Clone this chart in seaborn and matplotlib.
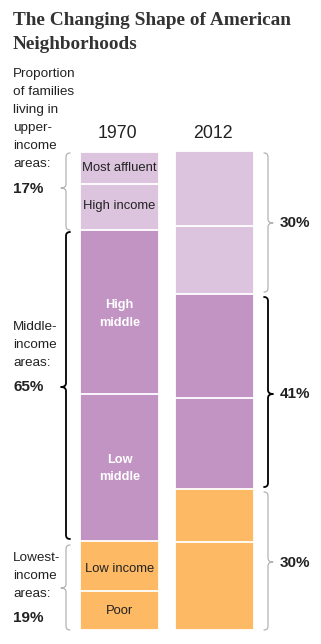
import matplotlib
matplotlib.use("Agg")
import matplotlib.pyplot as plt
from matplotlib.path import Path
from matplotlib.patches import PathPatch
import seaborn as sns
import numpy as np

# ---- data (percent of families, bottom to top) ----
segments = ["Poor", "Low income", "Low middle", "High middle", "High income", "Most affluent"]
years = ["1970", "2012"]
share_1970 = [8.1, 10.4, 30.7, 34.4, 9.6, 6.5]
share_2012 = [18.4, 11.1, 19.0, 21.7, 14.2, 15.7]
seg_colors = ["#fdb964", "#fdb964", "#c194c4", "#c194c4", "#dcc4df", "#dcc4df"]
group_labels_1970 = ["17%", "65%", "19%"]
group_labels_2012 = ["30%", "41%", "30%"]

sns.set_theme(style="white")
plt.rcParams['font.family'] = ['Liberation Sans', 'DejaVu Sans']

W, H = 321, 644
fig = plt.figure(figsize=(W / 100, H / 100), dpi=100)

# bar axes: y spans pixels 151..630, x maps category centers to 119.5 / 214.5 px
ax = fig.add_axes([0, (H - 630) / H, 1, 479 / H])
cum70 = np.cumsum(share_1970)
cum12 = np.cumsum(share_2012)
for i in range(len(segments) - 1, -1, -1):
    sns.barplot(x=years, y=[cum70[i], cum12[i]], color=seg_colors[i], saturation=1,
                width=0.84, edgecolor="white", linewidth=1.3, ax=ax)
ax.set_ylim(0, 100)
ax.set_xlim(-119.5 / 95, (W - 119.5) / 95)
ax.axis("off")

# overlay axes in pixel coordinates for annotations
ov = fig.add_axes([0, 0, 1, 1])
ov.set_xlim(0, W)
ov.set_ylim(H, 0)
ov.axis("off")
ov.patch.set_alpha(0)

dark = "#222222"
ov.text(13, 25, "The Changing Shape of American", family="Liberation Serif", fontweight="bold",
        fontsize=13.9, color="#333333", va="baseline", ha="left")
ov.text(13, 48.5, "Neighborhoods", family="Liberation Serif", fontweight="bold",
        fontsize=13.9, color="#333333", va="baseline", ha="left")

left_fs = 9.7
for txt, yb in [("Proportion", 77), ("of families", 95), ("living in", 113), ("upper-", 131),
                ("income", 149), ("areas:", 167)]:
    ov.text(13, yb, txt, fontsize=left_fs, color=dark, va="baseline", ha="left")
ov.text(13, 193, group_labels_1970[0], fontsize=11, fontweight="bold", color=dark, va="baseline")
for txt, yb in [("Middle-", 330), ("income", 348), ("areas:", 366)]:
    ov.text(13, yb, txt, fontsize=left_fs, color=dark, va="baseline", ha="left")
ov.text(13, 391, group_labels_1970[1], fontsize=11, fontweight="bold", color=dark, va="baseline")
for txt, yb in [("Lowest-", 561), ("income", 579), ("areas:", 597)]:
    ov.text(13, yb, txt, fontsize=left_fs, color=dark, va="baseline", ha="left")
ov.text(13, 622, group_labels_1970[2], fontsize=11, fontweight="bold", color=dark, va="baseline")

ov.text(117.5, 138, years[0], fontsize=12.8, color=dark, va="baseline", ha="center")
ov.text(212.5, 138, years[1], fontsize=12.8, color=dark, va="baseline", ha="center")

for txt, yb in zip(group_labels_2012, [227, 398, 567]):
    ov.text(280, yb, txt, fontsize=11, fontweight="bold", color=dark, va="baseline", ha="left")

bx = 119.5
lab_fs = 9.4
ov.text(bx, 171, "Most affluent", fontsize=lab_fs, color=dark, va="baseline", ha="center")
ov.text(bx, 209, "High income", fontsize=lab_fs, color=dark, va="baseline", ha="center")
ov.text(bx, 572, "Low income", fontsize=lab_fs, color=dark, va="baseline", ha="center")
ov.text(bx, 614, "Poor", fontsize=lab_fs, color=dark, va="baseline", ha="center")
for txt, yb in [("High", 308), ("middle", 326), ("Low", 463), ("middle", 480)]:
    ov.text(bx, yb, txt, fontsize=9.2, fontweight="bold", color="white", va="baseline", ha="center")


def brace(x, y0, y1, d, color, lw, ym=None):
    """d=-1 -> tip points left, d=+1 -> tip points right. x is the spine position."""
    if ym is None:
        ym = (y0 + y1) / 2
    r, t = 4, 5
    verts = [(x - d * r, y0), (x, y0), (x, y0 + r),
             (x, ym - r), (x, ym), (x + d * t, ym),
             (x, ym), (x, ym + r),
             (x, y1 - r), (x, y1), (x - d * r, y1)]
    codes = [Path.MOVETO, Path.CURVE3, Path.CURVE3,
             Path.LINETO, Path.CURVE3, Path.CURVE3,
             Path.CURVE3, Path.CURVE3,
             Path.LINETO, Path.CURVE3, Path.CURVE3]
    ov.add_patch(PathPatch(Path(verts, codes), fill=False, edgecolor=color, lw=lw,
                           capstyle="round", joinstyle="round"))


gray = "#b3b3b3"
brace(66, 153, 230, -1, gray, 0.9, ym=188)
brace(66, 232, 539, -1, "black", 1.3, ym=387)
brace(66, 545, 630, -1, gray, 0.9, ym=588)
brace(268, 153, 292, 1, gray, 0.9, ym=223)
brace(268, 297, 487, 1, "black", 1.3, ym=394)
brace(268, 492, 630, 1, gray, 0.9, ym=562)

fig.savefig("out.png", dpi=100)
